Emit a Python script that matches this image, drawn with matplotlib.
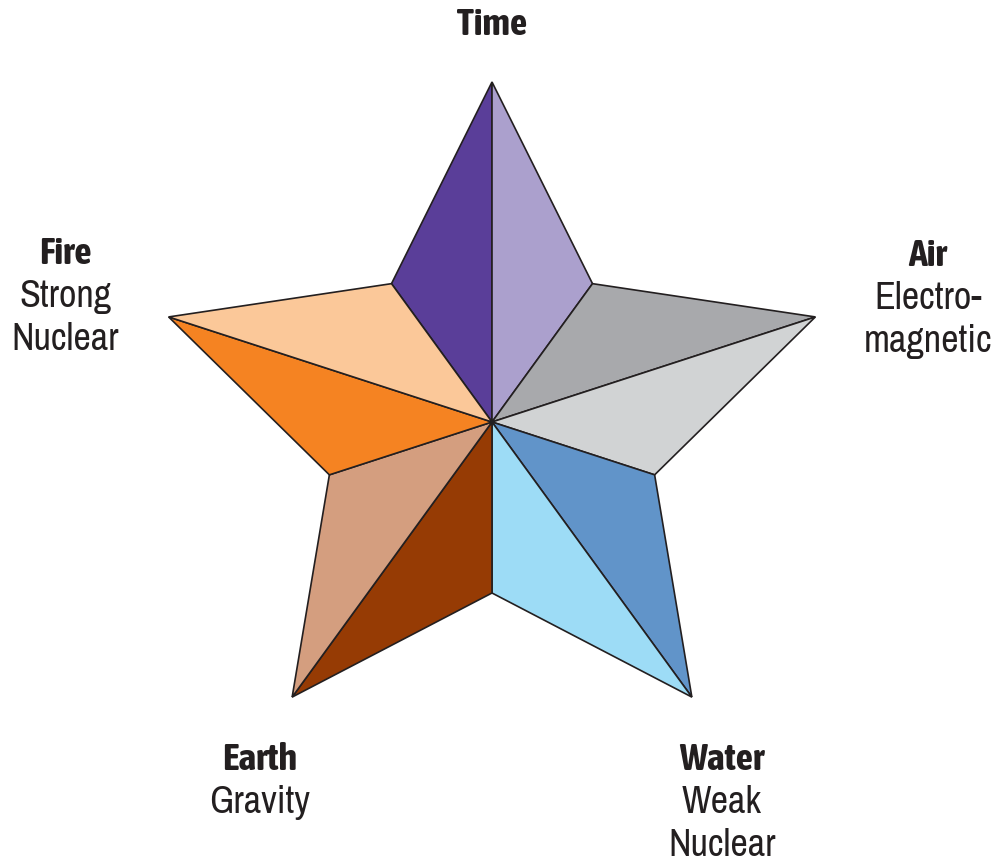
import matplotlib
matplotlib.use("Agg")
import matplotlib.pyplot as plt
import matplotlib.patheffects as pe
import numpy as np
from matplotlib.patches import Polygon
from matplotlib import font_manager

# points of the star, clockwise from the top
names = ["Time", "Air", "Water", "Earth", "Fire"]
subtitles = [[], ["Electro-", "magnetic"], ["Weak", "Nuclear"], ["Gravity"], ["Strong", "Nuclear"]]
# colour of the half before the tip (counter-clockwise side) and after it
ccw_colors = ["#5a3e99", "#a8a9ac", "#6194c9", "#963b04", "#f58322"]
cw_colors = ["#aba0cd", "#d1d3d4", "#9ddcf6", "#d49e7f", "#fbc899"]
outer_r = 340
inner_r = 171

center = (492, 423)
label_pos = [(492, 25), (928, 256), (722, 760), (260, 760), (65, 254)]
text_color = "#231f20"

# prefer a condensed face if one is installed
entries = [f for f in font_manager.fontManager.ttflist if "Narrow" in f.name or "Condensed" in f.name]
regular = sorted({f.name for f in entries})
bold = sorted({f.name for f in entries
               if (f.weight if isinstance(f.weight, int) else 700 if "bold" in str(f.weight) else 400) >= 600})
reg_family = regular[:1] + ["Roboto", "DejaVu Sans"]
bold_family = (bold[:1] or regular[:1]) + ["Roboto", "DejaVu Sans"]
fake_bold = [] if bold else [pe.withStroke(linewidth=1.6, foreground=text_color)]

fig = plt.figure(figsize=(10.01, 8.62), dpi=100)
ax = fig.add_axes([0, 0, 1, 1])
ax.set_xlim(0, 1001)
ax.set_ylim(862, 0)
ax.axis("off")

cx, cy = center
for i in range(len(names)):
    a = np.deg2rad(90 - 72 * i)
    tip = (cx + outer_r * np.cos(a), cy - outer_r * np.sin(a))
    a_prev = a + np.deg2rad(36)
    a_next = a - np.deg2rad(36)
    in_prev = (cx + inner_r * np.cos(a_prev), cy - inner_r * np.sin(a_prev))
    in_next = (cx + inner_r * np.cos(a_next), cy - inner_r * np.sin(a_next))
    ax.add_patch(Polygon([center, in_prev, tip], closed=True, facecolor=ccw_colors[i],
                         edgecolor=text_color, linewidth=1.2, joinstyle="miter"))
    ax.add_patch(Polygon([center, tip, in_next], closed=True, facecolor=cw_colors[i],
                         edgecolor=text_color, linewidth=1.2, joinstyle="miter"))

size = 27.5
for i, name in enumerate(names):
    x, y = label_pos[i]
    ax.text(x, y, name, ha="center", va="center", fontsize=size, fontweight="bold",
            color=text_color, family=bold_family, path_effects=fake_bold)
    for j, sub in enumerate(subtitles[i]):
        ax.text(x, y + 43 * (j + 1), sub, ha="center", va="center", fontsize=size,
                color=text_color, family=reg_family)

fig.savefig("out.png", dpi=100)
